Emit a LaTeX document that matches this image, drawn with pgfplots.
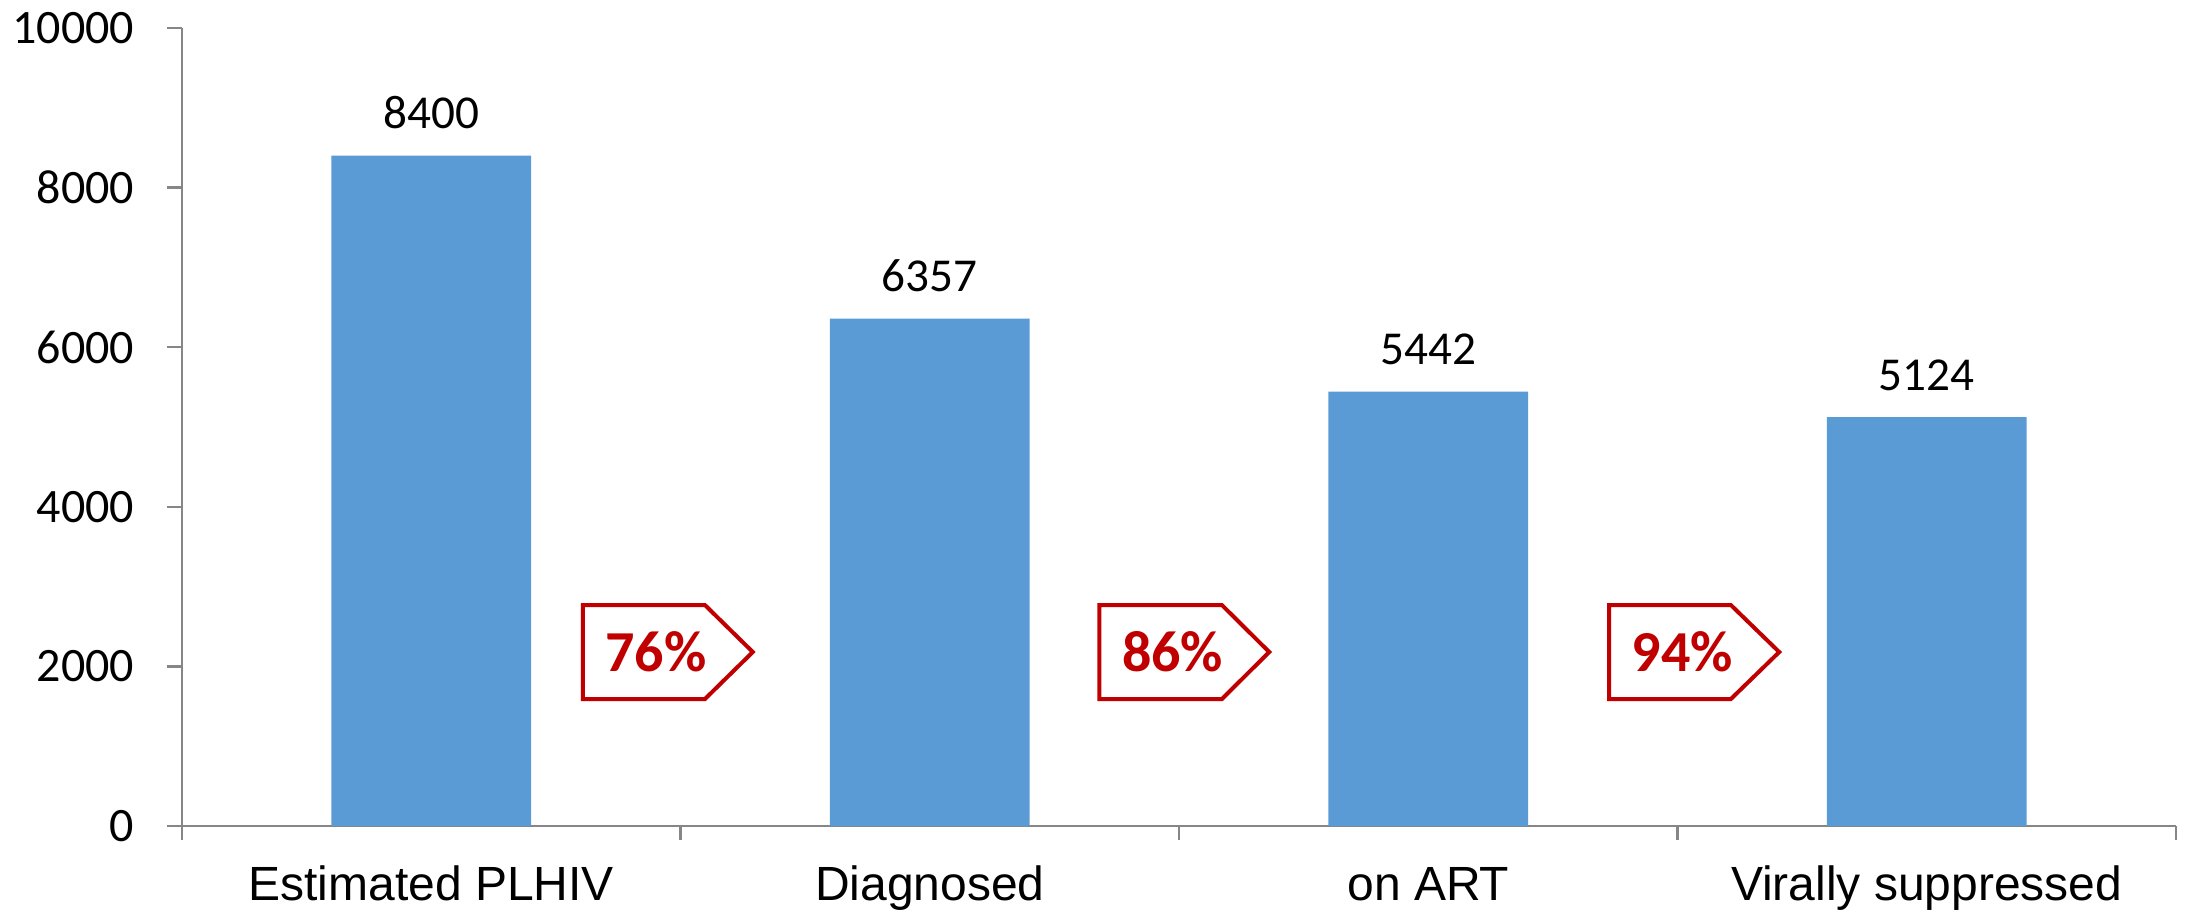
\documentclass[border=0pt]{standalone}
\usepackage{fontspec}
\setmainfont{Carlito}
\newfontfamily\arial{Liberation Sans}
\usepackage{pgfplots}
\pgfplotsset{compat=1.18}
\definecolor{barblue}{HTML}{5B9BD5}
\definecolor{axisgray}{HTML}{868686}
\definecolor{callred}{HTML}{C00000}

% one callout: left edge, body end, tip, text centre, label
\newcommand{\callout}[5]{%
  \draw[callred, line width=1pt, fill=white, line join=miter]
    (axis cs:#1,2769) -- (axis cs:#2,2769) -- (axis cs:#3,2180)
    -- (axis cs:#2,1591) -- (axis cs:#1,1591) -- cycle;
  \node[callred, font=\bfseries\fontsize{14.5}{16}\selectfont]
    at (axis cs:#4,2180) {#5};
}

\begin{document}
\begin{tikzpicture}
\begin{axis}[
    scale only axis,
    width=498.5pt,
    height=199.5pt,
    ybar,
    bar width=0.401,
    xmin=-0.5, xmax=3.5,
    ymin=0, ymax=10000,
    clip=false,
    axis x line=bottom,
    axis y line=left,
    axis line style={-, draw=axisgray, line width=0.6pt},
    xtick={0,1,2,3},
    xticklabels={Estimated PLHIV, Diagnosed, on ART, Virally suppressed},
    minor xtick={-0.5,0.5,1.5,2.5,3.5},
    ytick={0,2000,4000,6000,8000,10000},
    scaled y ticks=false,
    tick align=outside,
    major tick length=3.75pt,
    minor tick length=3.5pt,
    xtick style={draw=none},
    ytick style={draw=axisgray, line width=0.6pt},
    minor x tick style={draw=axisgray, line width=0.6pt},
    xticklabel style={font=\arial\fontsize{12}{14}\selectfont, anchor=base, yshift=-14.75pt, inner sep=0pt},
    yticklabel style={font=\fontsize{12}{14}\selectfont, anchor=east, inner sep=0pt, xshift=-8pt},
    /pgf/number format/1000 sep={},
    /pgf/number format/assume math mode=true,
    nodes near coords,
    nodes near coords style={font=\fontsize{11.8}{13}\selectfont, anchor=base, inner sep=0pt, yshift=6.75pt, black},
]
\addplot[fill=barblue, draw=none] coordinates {
    (0,8400)
    (1,6357)
    (2,5442)
    (3,5124)
};
\callout{0.304}{0.549}{0.645}{0.451}{76\%}
\callout{1.340}{1.586}{1.681}{1.487}{86\%}
\callout{2.363}{2.607}{2.704}{2.510}{94\%}
\end{axis}
\pgfresetboundingbox
\path[use as bounding box] ([xshift=-45.5pt,yshift=-20.75pt]current axis.south west) rectangle ([xshift=3pt,yshift=7pt]current axis.north east);
\end{tikzpicture}
\end{document}
